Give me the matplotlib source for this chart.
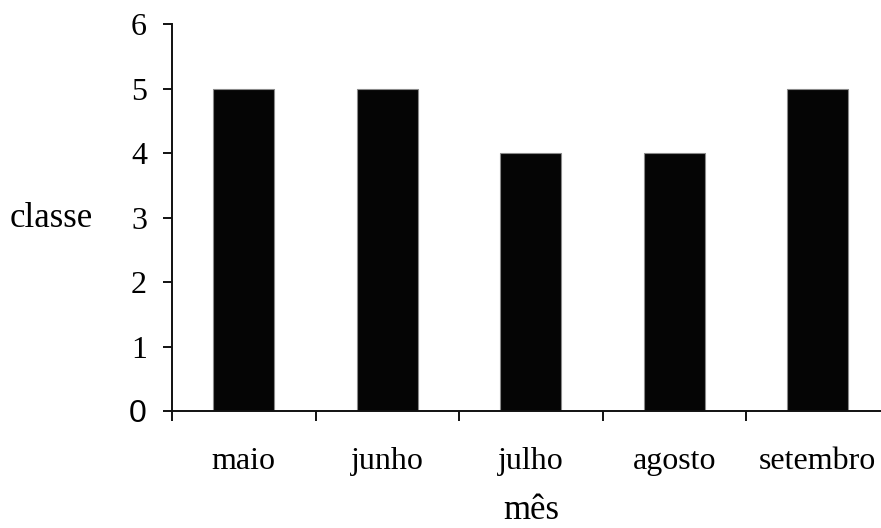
import matplotlib
matplotlib.use("Agg")
import matplotlib.pyplot as plt
import numpy as np

# Monthly class values
meses = ["maio", "junho", "julho", "agosto", "setembro"]
classe = [5, 5, 4, 4, 5]
y_ticks = [0, 1, 2, 3, 4, 5, 6]

plt.rcParams["font.family"] = ["Liberation Serif", "DejaVu Serif"]

fig = plt.figure(figsize=(8.81, 5.28), dpi=100)
ax = fig.add_axes([172 / 881, 117 / 528, 717.5 / 881, 387 / 528])

x = np.arange(len(meses))
ax.bar(x, classe, width=0.425, color="#050505", edgecolor="#8a8a8a",
       linewidth=0.8, zorder=2)

ax.set_xlim(-0.5, len(meses) - 0.5)
ax.set_ylim(0, 6)

# category boundaries get tick marks, centres get the labels
ax.set_xticks(np.arange(len(meses) + 1) - 0.5)
ax.set_xticklabels([])
ax.set_xticks(x, minor=True)
ax.set_xticklabels(meses, minor=True, fontsize=23)
ax.tick_params(axis="x", which="major", direction="out", length=7, width=1.4,
               color="#111111")
ax.tick_params(axis="x", which="minor", length=0, pad=26)

ax.set_yticks(y_ticks)
ax.set_yticklabels([str(v) for v in y_ticks], fontsize=23)
ax.tick_params(axis="y", direction="out", length=6.5, width=1.4,
               color="#111111", pad=11.5)
ax.get_yticklabels()[0].set_fontfamily(["Liberation Sans", "DejaVu Sans"])

for side in ("top", "right"):
    ax.spines[side].set_visible(False)
for side in ("left", "bottom"):
    ax.spines[side].set_linewidth(1.4)
    ax.spines[side].set_color("#111111")

ax.set_ylabel("classe", rotation=0, fontsize=25, va="baseline", ha="left")
ax.yaxis.set_label_coords(-162 / 717.5, (411 - 226.7) / 387)
ax.set_xlabel("mês", fontsize=25, va="baseline")
ax.xaxis.set_label_coords(0.5, (411 - 519) / 387)

fig.savefig("out.png", dpi=100)
